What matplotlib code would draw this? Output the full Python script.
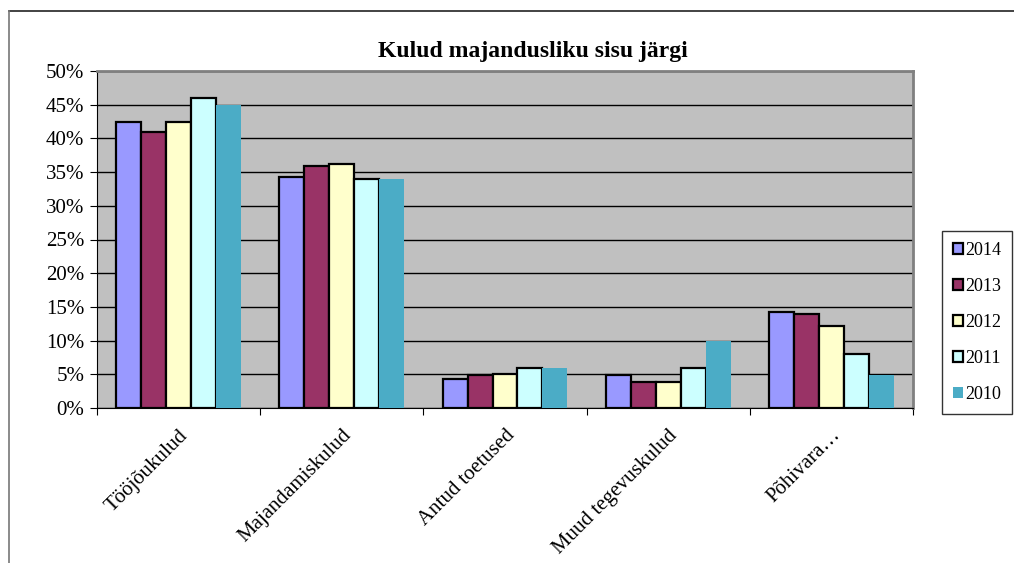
import matplotlib.pyplot as plt
import numpy as np
from matplotlib.ticker import PercentFormatter
from matplotlib.lines import Line2D

plt.rcParams['font.family'] = ['Liberation Serif', 'DejaVu Serif']

categories = ['Tööjõukulud', 'Majandamiskulud', 'Antud toetused', 'Muud tegevuskulud', 'Põhivara…']
years = ['2014', '2013', '2012', '2011', '2010']
v2014 = [42.4, 34.2, 4.3, 4.9, 14.2]
v2013 = [41.0, 35.9, 4.9, 3.9, 13.9]
v2012 = [42.4, 36.2, 5.1, 3.9, 12.2]
v2011 = [46.0, 34.0, 5.9, 5.9, 8.0]
v2010 = [45.0, 34.0, 6.0, 9.9, 4.9]
series = [v2014, v2013, v2012, v2011, v2010]
colors = ['#9999FF', '#993366', '#FFFFCC', '#CCFFFF', '#4BACC6']

fig = plt.figure(figsize=(10.14, 5.63), dpi=100)
# outer chart frame (only top and left visible)
fig.lines.append(Line2D([9 / 1014, 1.0], [1 - 11 / 563] * 2, transform=fig.transFigure,
                        color='#222222', lw=1.2))
fig.lines.append(Line2D([9 / 1014] * 2, [0, 1 - 11 / 563], transform=fig.transFigure,
                        color='#777777', lw=1.2))

ax = fig.add_axes([97 / 1014, 1 - 408 / 563, (913 - 97) / 1014, (408 - 71) / 563])
ax.set_facecolor('#C0C0C0')

x = np.arange(len(categories))
w = 0.153
for i, (vals, c) in enumerate(zip(series, colors)):
    off = (i - 2) * w
    if years[i] == '2010':
        ax.bar(x + off, vals, w, color=c, edgecolor='none', label=years[i], zorder=3)
    else:
        ax.bar(x + off, vals, w, color=c, edgecolor='black', linewidth=1.6, label=years[i], zorder=3)

ax.set_xlim(-0.5, len(categories) - 0.5)
ax.set_ylim(0, 50)
ax.set_yticks(np.arange(0, 51, 5))
ax.yaxis.set_major_formatter(PercentFormatter(decimals=0))
ax.grid(axis='y', color='black', lw=1, zorder=1)
ax.set_axisbelow(True)

ax.set_xticks(np.arange(-0.5, len(categories), 1))
ax.set_xticklabels([])
ax.set_xticks(x, minor=True)
ax.set_xticklabels(categories, minor=True, rotation=45, ha='right', va='top',
                   rotation_mode='anchor', fontsize=15)
ax.tick_params(axis='x', which='minor', length=0, pad=13)
ax.tick_params(axis='x', which='major', length=5, direction='out')
ax.tick_params(axis='y', labelsize=15, length=5, direction='out', pad=4)

for s in ['top', 'right']:
    ax.spines[s].set_color('#808080')
    ax.spines[s].set_linewidth(2)
ax.spines['left'].set_color('black')
ax.spines['bottom'].set_color('black')

# title is centred on the whole chart area, not on the plot area
fig.text(533 / 1014, 1 - 51 / 563, 'Kulud majandusliku sisu järgi', fontsize=17,
         fontweight='bold', ha='center', va='center')

leg = ax.legend(loc='upper left', bbox_to_anchor=(942 / 1014, 1 - 231 / 563),
                bbox_transform=fig.transFigure, fontsize=13, frameon=True,
                fancybox=False, edgecolor='black', handlelength=0.55, handleheight=0.55,
                handletextpad=0.15, labelspacing=1.05, borderpad=0.6, borderaxespad=0)
leg.get_frame().set_linewidth(1)

fig.savefig('out.png', dpi=100)
